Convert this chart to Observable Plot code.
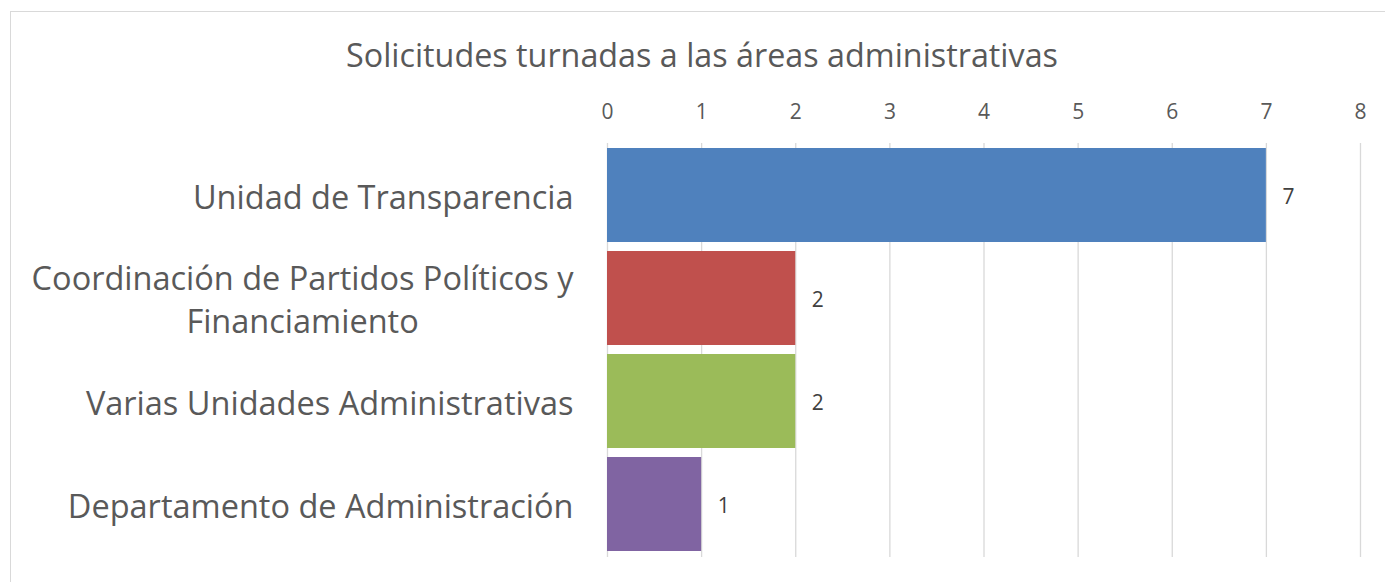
<!DOCTYPE html>
<html>
<head>
<meta charset="utf-8">
<script src="https://cdn.jsdelivr.net/npm/d3@7"></script>
<script src="https://cdn.jsdelivr.net/npm/@observablehq/plot@0.6"></script>
<style>
  html, body { margin: 0; padding: 0; background: #fff; }
  body { width: 1385px; height: 582px; overflow: hidden; position: relative; font-family: "Open Sans", sans-serif; }
  #frame { position: absolute; left: 10px; top: 11px; width: 1400px; height: 600px; border-left: 1px solid #d9d9d9; border-top: 1px solid #d9d9d9; box-sizing: border-box; }
  #title { position: absolute; left: 0; top: 32px; width: 1404px; text-align: center; font-size: 32.3px; line-height: 44px; color: #595959; white-space: nowrap; }
  #chart { position: absolute; left: 0; top: 80px; }
</style>
</head>
<body>
<div id="frame"></div>
<div id="title">Solicitudes turnadas a las áreas administrativas</div>
<div id="chart"></div>
<script>
const categories = [
  "Unidad de Transparencia",
  "Coordinación de Partidos Políticos y Financiamiento",
  "Varias Unidades Administrativas",
  "Departamento de Administración"
];
const labelLines = [
  ["Unidad de Transparencia"],
  ["Coordinación de Partidos Políticos y", "Financiamiento"],
  ["Varias Unidades Administrativas"],
  ["Departamento de Administración"]
];
const values = [7, 2, 2, 1];
const colors = ["#4f81bd", "#c0504d", "#9bbb59", "#8064a2"];
const xTicks = [0, 1, 2, 3, 4, 5, 6, 7, 8];

const data = categories.map((c, i) => ({category: c, value: values[i]}));
const lineMap = new Map(categories.map((c, i) => [c, labelLines[i].join("\n")]));

const chart = Plot.plot({
  width: 1385,
  height: 502,
  marginLeft: 607,
  marginRight: 25,
  marginTop: 63,
  marginBottom: 25,
  style: {fontFamily: "Open Sans, sans-serif", color: "#595959", background: "transparent"},
  x: {domain: [0, 8]},
  y: {domain: categories, paddingInner: 0.087, paddingOuter: 0.04},
  color: {domain: categories, range: colors},
  marks: [
    Plot.gridX(xTicks, {stroke: "#d9d9d9", strokeOpacity: 1, strokeWidth: 1.3}),
    Plot.axisX(xTicks, {anchor: "top", tickSize: 0, tickPadding: 25, fontSize: 21, fill: "#595959", label: null}),
    Plot.barX(data, {x: "value", y: "category", fill: "category"}),
    Plot.text(data, {x: "value", y: "category", text: d => String(d.value), textAnchor: "start", dx: 16, dy: 2, fontSize: 21, fill: "#404040"}),
    Plot.axisY({anchor: "left", tickSize: 0, tickPadding: 34, fontSize: 32.5, fill: "#595959", lineHeight: 1.35, label: null, dy: -1, tickFormat: c => lineMap.get(c)})
  ]
});
document.getElementById("chart").appendChild(chart);

// center the lines of wrapped labels within their block (as in the original)
chart.querySelectorAll('g[aria-label="y-axis tick label"] text').forEach(t => {
  const spans = t.querySelectorAll("tspan");
  if (spans.length > 1) {
    let maxW = 0;
    spans.forEach(s => { maxW = Math.max(maxW, s.getComputedTextLength()); });
    t.setAttribute("text-anchor", "middle");
    spans.forEach(s => s.setAttribute("x", -maxW / 2));
  }
});
</script>
</body>
</html>
